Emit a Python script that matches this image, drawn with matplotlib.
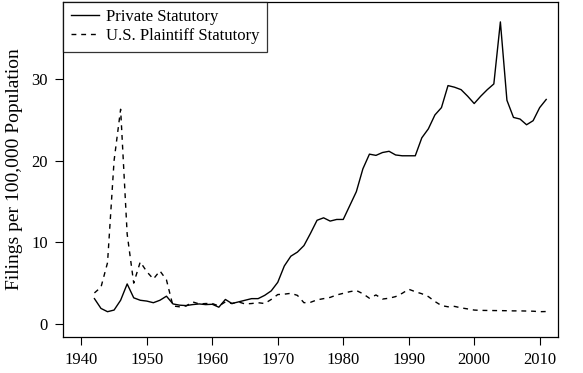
import matplotlib
matplotlib.use("Agg")
import matplotlib.pyplot as plt

years = list(range(1942, 2012))
private_statutory = [
    3.1, 1.9, 1.5, 1.7, 2.9, 4.9, 3.2, 2.9, 2.8, 2.6,
    2.9, 3.4, 2.45, 2.3, 2.25, 2.37, 2.45, 2.37, 2.41, 2.05,
    3.0, 2.5, 2.7, 2.9, 3.1, 3.1, 3.5, 4.05, 5.1, 7.1,
    8.3, 8.8, 9.6, 11.1, 12.7, 13.0, 12.6, 12.8, 12.8, 14.5,
    16.2, 19.0, 20.8, 20.65, 21.0, 21.15, 20.7, 20.6, 20.6, 20.6,
    22.8, 23.9, 25.6, 26.5, 29.2, 29.0, 28.7, 27.9, 27.0, 27.9,
    28.7, 29.4, 37.0, 27.4, 25.3, 25.1, 24.4, 24.9, 26.5, 27.5,
]
us_plaintiff_statutory = [
    3.8, 4.5, 7.5, 20.0, 26.3, 11.0, 5.0, 7.6, 6.4, 5.5,
    6.5, 5.4, 2.2, 2.1, 2.2, 2.7, 2.45, 2.5, 2.5, 2.2,
    2.7, 2.5, 2.7, 2.45, 2.5, 2.6, 2.5, 3.0, 3.6, 3.65,
    3.75, 3.5, 2.6, 2.65, 2.95, 3.1, 3.25, 3.55, 3.75, 3.95,
    4.1, 3.7, 3.15, 3.55, 3.05, 3.15, 3.35, 3.75, 4.25, 3.95,
    3.7, 3.35, 2.75, 2.25, 2.1, 2.15, 1.97, 1.84, 1.7, 1.66,
    1.65, 1.64, 1.63, 1.62, 1.6, 1.6, 1.58, 1.56, 1.5, 1.52,
]
series_labels = ["Private Statutory", "U.S. Plaintiff Statutory"]
x_ticks = [1940, 1950, 1960, 1970, 1980, 1990, 2000, 2010]
y_ticks = [0, 10, 20, 30]
y_label = "Filings per 100,000 Population"

plt.rcParams['font.family'] = ['Liberation Serif', 'DejaVu Serif']

W, H = 583, 373
fig = plt.figure(figsize=(W / 100, H / 100), dpi=100)
ax = fig.add_axes([63 / W, (H - 337) / H, (558 - 63) / W, (337 - 1.5) / H])

ax.plot(years, private_statutory, color='black', lw=1.0, ls='-', label=series_labels[0])
ax.plot(years, us_plaintiff_statutory, color='black', lw=1.0, ls=(0, (3.5, 3.5)), label=series_labels[1])

ax.set_xlim(1937.2, 2012.8)
ax.set_ylim(-1.6, 39.5)
ax.set_xticks(x_ticks)
ax.set_yticks(y_ticks)
ax.tick_params(direction='out', length=6, width=0.8, labelsize=12, pad=5)
ax.set_ylabel(y_label, fontsize=14, labelpad=6)
for s in ax.spines.values():
    s.set_linewidth(0.9)

leg = ax.legend(loc='upper left', borderaxespad=0, fancybox=False, frameon=True,
                edgecolor='black', fontsize=12, handlelength=1.7, handletextpad=0.45,
                labelspacing=0.2, borderpad=0.45)
leg.get_frame().set_linewidth(0.9)

fig.savefig("out.png", dpi=100)
